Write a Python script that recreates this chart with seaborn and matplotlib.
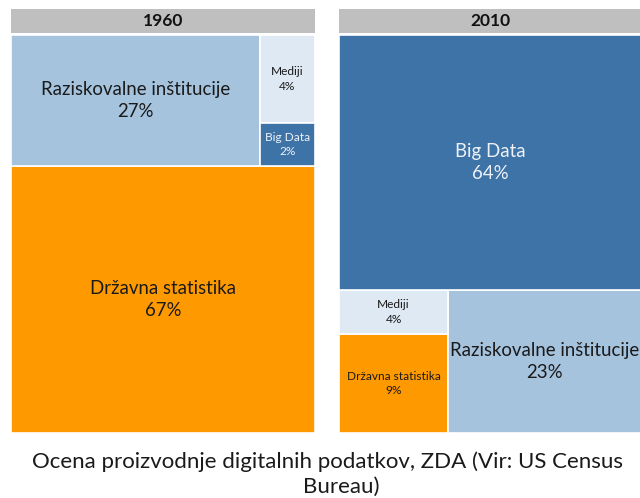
import matplotlib
matplotlib.use("Agg")
import matplotlib.pyplot as plt
import seaborn as sns

# treemap data
labels = ["Državna statistika", "Raziskovalne inštitucije", "Mediji", "Big Data"]
share_1960 = [67, 27, 4, 2]
share_2010 = [9, 23, 4, 64]
years = ["1960", "2010"]

palette = {
    "Državna statistika": "#FF9900",
    "Raziskovalne inštitucije": "#A6C3DE",
    "Mediji": "#DFE9F3",
    "Big Data": "#3E73A7",
}
text_col = {
    "Državna statistika": "#1a1a1a",
    "Raziskovalne inštitucije": "#1a1a1a",
    "Mediji": "#1a1a1a",
    "Big Data": "#EEF2F7",
}

sns.set_theme(style="white")
plt.rcParams["font.family"] = ["Lato", "DejaVu Sans"]


def layout_1960(v):
    d = dict(zip(labels, v))
    tot = sum(v)
    h_bottom = d["Državna statistika"] / tot
    top = 1 - h_bottom
    top_sum = d["Raziskovalne inštitucije"] + d["Mediji"] + d["Big Data"]
    w_raz = d["Raziskovalne inštitucije"] / top_sum
    side = d["Mediji"] + d["Big Data"]
    h_big = top * d["Big Data"] / side
    return {
        "Državna statistika": (0, 0, 1, h_bottom),
        "Raziskovalne inštitucije": (0, h_bottom, w_raz, top),
        "Big Data": (w_raz, h_bottom, 1 - w_raz, h_big),
        "Mediji": (w_raz, h_bottom + h_big, 1 - w_raz, top - h_big),
    }


def layout_2010(v):
    d = dict(zip(labels, v))
    tot = sum(v)
    h_bottom = 1 - d["Big Data"] / tot
    rest = d["Državna statistika"] + d["Mediji"] + d["Raziskovalne inštitucije"]
    w_left = (d["Državna statistika"] + d["Mediji"]) / rest
    h_drz = h_bottom * d["Državna statistika"] / (d["Državna statistika"] + d["Mediji"])
    return {
        "Big Data": (0, h_bottom, 1, 1 - h_bottom),
        "Državna statistika": (0, 0, w_left, h_drz),
        "Mediji": (0, h_drz, w_left, h_bottom - h_drz),
        "Raziskovalne inštitucije": (w_left, 0, 1 - w_left, h_bottom),
    }


W, H = 640, 498
fig = plt.figure(figsize=(6.4, 4.98), dpi=100)

def fx(px):
    return px / W

def fy(py):
    return 1 - py / H

big, small = 13.4, 8.6
panels = [
    (years[0], layout_1960(share_1960), 11, 315,
     {"Raziskovalne inštitucije": big, "Državna statistika": big, "Mediji": small, "Big Data": small}),
    (years[1], layout_2010(share_2010), 339, 641,
     {"Raziskovalne inštitucije": big, "Državna statistika": small, "Mediji": small, "Big Data": big}),
]
shares = {years[0]: share_1960, years[1]: share_2010}

for year, rects, x0, x1, sizes in panels:
    # header
    hax = fig.add_axes([fx(x0), fy(33), fx(x1 - x0), (33 - 9) / H])
    hax.bar([0], [1], width=1, align="edge", color="#BFBFBF", edgecolor="none")
    hax.set_xlim(0, 1)
    hax.set_ylim(0, 1)
    hax.text(0.5, 0.48, year, ha="center", va="center", fontsize=12.5,
             fontweight="bold", color="#111111")
    hax.axis("off")

    ax = fig.add_axes([fx(x0), fy(433), fx(x1 - x0), (433 - 35) / H])
    vals = dict(zip(labels, shares[year]))
    for lab in labels:
        x, y, w, h = rects[lab]
        ax.bar([x], [h], width=w, bottom=y, align="edge", color=palette[lab],
               edgecolor="white", linewidth=1.2)
        ax.text(x + w / 2, y + h / 2, f"{lab}\n{vals[lab]}%", ha="center",
                va="center", fontsize=sizes[lab], color=text_col[lab],
                linespacing=1.4)
    ax.set_xlim(0, 1)
    ax.set_ylim(0, 1)
    ax.axis("off")

fig.text(fx(327), fy(462), "Ocena proizvodnje digitalnih podatkov, ZDA (Vir: US Census",
         ha="center", va="center", fontsize=16, color="#1a1a1a")
fig.text(fx(341), fy(487), "Bureau)", ha="center", va="center", fontsize=16, color="#1a1a1a")

fig.savefig("out.png", dpi=100)
